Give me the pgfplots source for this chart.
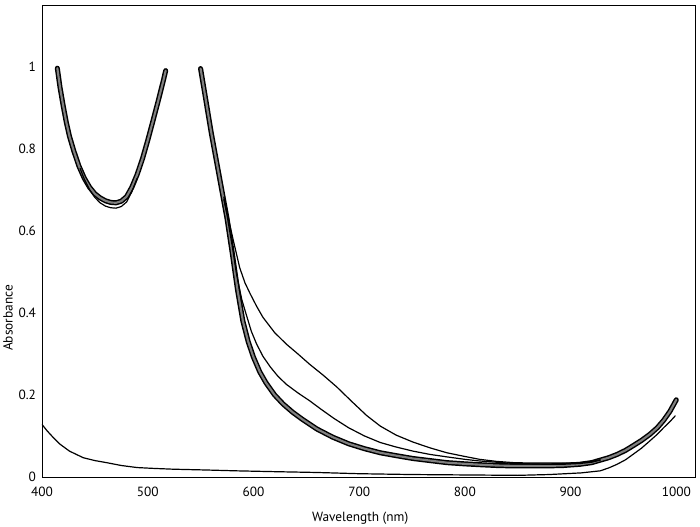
\documentclass[border=0pt]{standalone}
\usepackage{fontspec}
\setmainfont{PT Sans}
\usepackage{pgfplots}
\usepackage{pgfplotstable}
\pgfplotsset{compat=1.18}

% thick band (several overlapping spectra)
\pgfplotstableread{
x y
414.5 0.996
417 0.950
420 0.905
423 0.864
426 0.830
430 0.795
435 0.757
440 0.728
445 0.706
450 0.690
455 0.680
460 0.673
465 0.669
470 0.668
475 0.672
480 0.683
485 0.706
490 0.737
495 0.775
500 0.820
505 0.868
510 0.917
515 0.968
517 0.990
530 nan
550 0.995
555 0.918
560 0.840
565 0.770
570 0.700
575 0.630
580 0.545
585 0.455
590 0.380
595 0.330
600 0.292
606 0.256
612 0.229
620 0.200
628 0.178
637 0.158
646 0.141
660 0.117
675 0.097
690 0.081
705 0.069
720 0.059
735 0.052
751 0.045
767 0.040
783 0.035
800 0.032
814 0.030
830 0.028
846 0.027
862 0.027
877 0.027
893 0.028
909 0.031
920 0.035
928 0.041
936 0.047
944 0.055
952 0.065
959 0.076
967 0.089
975 0.104
982 0.120
988 0.138
994 0.160
1000 0.188
}\tabband

% lower edge of the band near the minimum
\pgfplotstableread{
x y
436 0.752
440 0.726
445 0.700
450 0.681
455 0.668
460 0.660
465 0.656
470 0.655
475 0.659
480 0.670
485 0.695
490 0.728
}\tablow

\pgfplotstableread{
x y
572 0.676
575 0.638
580 0.562
584 0.494
589 0.432
594 0.389
598 0.355
603 0.324
609 0.294
616 0.268
623 0.246
631 0.226
642 0.205
653 0.186
664 0.165
676 0.143
690 0.120
705 0.100
720 0.084
735 0.073
751 0.063
767 0.055
783 0.049
800 0.043
814 0.039
830 0.036
846 0.033
862 0.032
877 0.031
893 0.031
909 0.033
920 0.036
928 0.041
}\tabmid

\pgfplotstableread{
x y
572 0.682
575 0.645
581 0.576
587 0.510
592 0.473
597 0.446
603 0.416
609 0.389
620 0.352
631 0.324
642 0.300
653 0.275
666 0.248
679 0.219
693 0.184
707 0.150
720 0.124
735 0.102
751 0.085
767 0.071
783 0.059
800 0.050
814 0.043
830 0.038
846 0.035
862 0.034
877 0.034
893 0.034
909 0.035
920 0.038
928 0.042
}\tabupper

\pgfplotstableread{
x y
400 0.128
405 0.112
410 0.098
417 0.080
426 0.063
439 0.047
450 0.040
461 0.035
475 0.028
490 0.023
505 0.021
524 0.019
556 0.017
584 0.015
620 0.013
660 0.011
700 0.008
750 0.006
800 0.005
850 0.004
880 0.006
910 0.010
928 0.015
936 0.022
944 0.031
952 0.042
959 0.055
967 0.070
975 0.088
982 0.104
988 0.120
994 0.135
999 0.149
}\tabbase

\begin{document}
\begin{tikzpicture}
\useasboundingbox (-31.5pt,-37.5pt) rectangle (493.5pt,357.75pt);
\begin{axis}[
    scale only axis,
    width=490pt, height=354pt,
    xmin=400, xmax=1018,
    ymin=0, ymax=1.15,
    xtick={400,500,...,1000},
    ytick={0,0.2,0.4,0.6,0.8,1},
    major tick length=0pt,
    tick label style={font=\fontsize{10}{12}\selectfont},
    /pgf/number format/assume math mode=true,
    /pgf/number format/1000 sep={},
    xticklabel style={yshift=-4pt},
    yticklabel style={xshift=-1pt},
    xlabel={Wavelength (nm)},
    ylabel={Absorbance},
    label style={font=\fontsize{10}{12}\selectfont},
    xlabel style={at={(axis description cs:0.487,-0.087)}, anchor=center},
    ylabel style={at={(axis description cs:-0.052,0.337)}, anchor=center, rotate=0},
    axis line style={line width=0.7pt},
    unbounded coords=jump,
    every axis plot/.append style={line join=round, line cap=round},
]
\addplot[black, line width=3.8pt] table {\tabband};
\addplot[black!50, line width=1.6pt] table {\tabband};
\addplot[black, line width=0.9pt] table {\tablow};
\addplot[black, line width=0.9pt] table {\tabmid};
\addplot[black, line width=0.9pt] table {\tabupper};
\addplot[black, line width=0.9pt] table {\tabbase};
\end{axis}
\end{tikzpicture}
\end{document}
